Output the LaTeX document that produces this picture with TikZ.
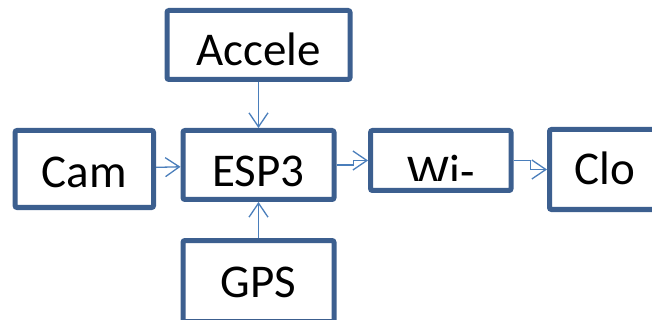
\documentclass[tikz,border=0pt]{standalone}
\usepackage{fontspec}
\setmainfont{Carlito}
\usepackage{tikz}
\usetikzlibrary{arrows.meta}

\definecolor{boxblue}{HTML}{3C5F8F}
\definecolor{linkblue}{HTML}{4A7EBB}

\begin{document}
\begin{tikzpicture}[x=1pt, y=-1pt,
    blk/.style={draw=boxblue, line width=5pt, rounded corners=2pt, fill=white,
                inner sep=0pt, text height=42pt, text depth=0pt,
                font=\fontsize{47}{50}\selectfont},
    link/.style={draw=linkblue, line width=1.3pt, -{Straight Barb[length=14pt, width=19pt]}}]
      \clip (0,0) rectangle (652,320);

      \node[blk, minimum width=183pt, minimum height=69pt]  (accel) at (258.5,  45.0)  {Accele};
      \node[blk, minimum width=138.5pt, minimum height=77pt, text height=38pt] (cam) at ( 84.3, 169.0) {Cam};
      \node[blk, minimum width=151pt, minimum height=69pt, text height=44pt]   (esp) at (258.5, 165.0) {ESP3};
      \node[blk, minimum width=140.5pt, minimum height=60pt] (wifi)  at (440.8, 160.5)  {};
      \node[blk, minimum width=111pt, minimum height=80pt, text height=31pt]  (clo) at (605.0, 169.5) {Clo};
      \node[blk, minimum width=151pt, minimum height=81pt, text height=32pt]  (gps) at (258.5, 281.0) {GPS};

      % label of the Wi- box is cut off at the bottom
      \begin{scope}
        \clip (wifi.north west) rectangle (513,181);
        \node[font=\fontsize{47}{50}\selectfont, anchor=base] (wifilabel) at (441,188) {Wi-};
      \end{scope}

      \draw[link] (accel) -- (esp);
      \draw[link] (gps)   -- (esp);
      \draw[link] (cam)   -- (esp);
      \draw[link] (esp.east)  -- ++(17,0) |- (wifi.west);
      \draw[link] (wifi.east) -- ++(17,0) |- (clo.west);
\end{tikzpicture}
\end{document}
